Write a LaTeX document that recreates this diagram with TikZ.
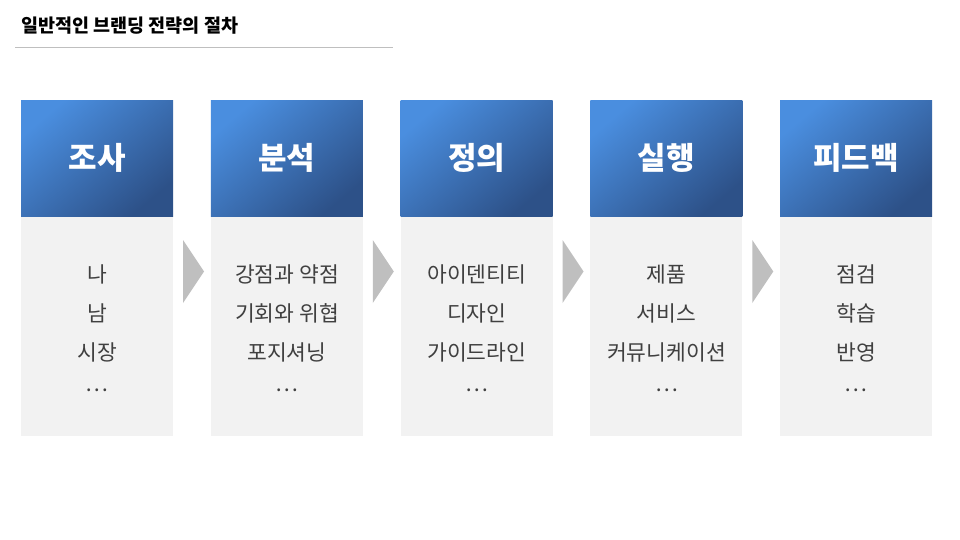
\documentclass[tikz,border=0pt]{standalone}
\usepackage{fontspec}
\setmainfont{Noto Sans CJK KR}
\usetikzlibrary{positioning,calc}
\definecolor{hdlight}{HTML}{4A8EDF}
\definecolor{hddark}{HTML}{2D5188}
\definecolor{bodygray}{HTML}{F2F2F2}
\definecolor{chevgray}{HTML}{BFBFBF}
\definecolor{itemgray}{HTML}{404040}
\definecolor{rulegray}{HTML}{BFBFBF}
\newcommand{\more}{\\[-8pt]…}
\tikzset{
  hdbox/.style={anchor=north west, minimum width=152pt, minimum height=116pt, inner sep=0pt,
    top color=hdlight, bottom color=hddark, shading angle=40,
    text=white, font=\fontsize{31}{33}\selectfont\bfseries},
  bodybox/.style={minimum width=152pt, minimum height=219pt, inner sep=0pt, fill=bodygray},
  items/.style={align=center, text=itemgray, font=\fontsize{21.5}{39}\selectfont},
  chevron/.style={fill=chevgray}
}
\begin{document}
\begin{tikzpicture}[x=1pt, y=-1pt]
  \useasboundingbox (0, 0) rectangle (960, 540);
  % title
  \node[anchor=west, inner sep=0pt, font=\fontsize{18.5}{20}\selectfont\bfseries] (title) at (21, 26) {일반적인 브랜딩 전략의 절차};
  \coordinate (rl) at (15, 47);
  \coordinate (rr) at (393, 47);
  \draw [rulegray, line width=0.8pt] (rl) -- (rr);
  % steps
  \foreach \i/\head/\list in {1/조사/{나\\남\\시장\more},
      2/분석/{강점과 약점\\기회와 위협\\포지셔닝\more},
      3/정의/{아이덴티티\\디자인\\가이드라인\more},
      4/실행/{제품\\서비스\\커뮤니케이션\more},
      5/피드백/{점검\\학습\\반영\more}} {
    \pgfmathsetmacro{\x}{21 + 189.75*(\i-1)}
    \node[hdbox] (h\i) at (\x, 100) {\head};
    \node[bodybox, below=0pt of h\i] (b\i) {};
    \node[items, anchor=north] (t\i) at ($(b\i.north)+(0, 45)$) {\list};
  }
  % chevrons
  \foreach \i in {1,...,4} {
    \pgfmathsetmacro{\x}{183 + 189.75*(\i-1)}
    \fill [chevron] (\x, 240) -- (\x+21, 271.5) -- (\x, 303) -- cycle;
  }
\end{tikzpicture}
\end{document}
